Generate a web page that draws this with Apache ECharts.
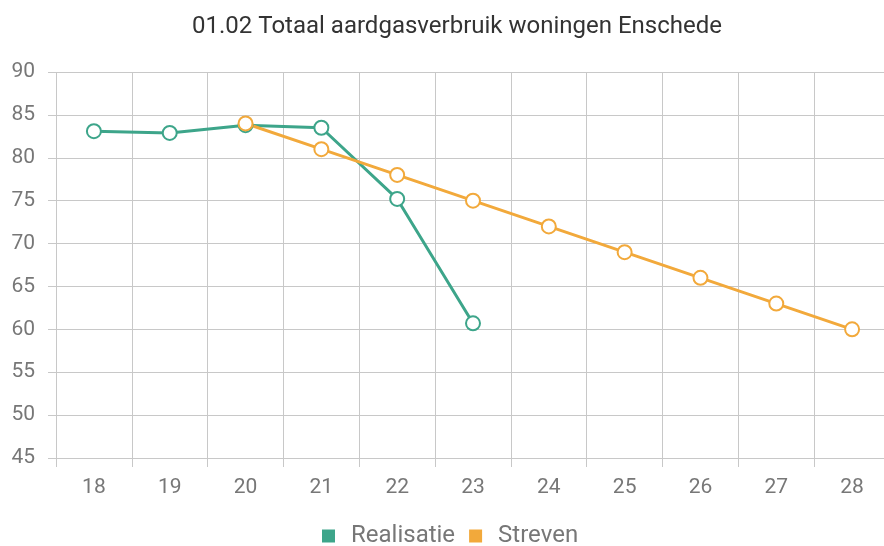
<!DOCTYPE html>
<html>
<head>
<meta charset="utf-8">
<script src="https://cdn.jsdelivr.net/npm/echarts@6/dist/echarts.min.js"></script>
<style>
  html, body { margin: 0; padding: 0; background: #fff; overflow: hidden; }
  #main { width: 892px; height: 546px; }
</style>
</head>
<body>
<div id="main"></div>
<script>
var years = ['18', '19', '20', '21', '22', '23', '24', '25', '26', '27', '28'];
var realisatie = [83.1, 82.9, 83.8, 83.5, 75.2, 60.7, null, null, null, null, null];
var streven = [null, null, 84, 81, 78, 75, 72, 69, 66, 63, 60];

var myChart = echarts.init(document.getElementById('main'));
var gridColor = '#c8c8c8';
var option = {
  color: ['#3da58a', '#f2a93b'],
  title: {
    text: '01.02 Totaal aardgasverbruik woningen Enschede',
    left: 452,
    textAlign: 'center',
    top: 10,
    textStyle: { fontFamily: 'Roboto', fontWeight: 'normal', fontSize: 24, color: '#333' }
  },
  legend: {
    top: 519,
    left: 317,
    icon: 'rect',
    itemWidth: 13,
    itemHeight: 13,
    itemGap: 14,
    textStyle: { fontFamily: 'Roboto', fontSize: 24, color: '#777', padding: [0, 0, 0, 11] },
    data: ['Realisatie', 'Streven']
  },
  grid: { left: 56, top: 72, width: 834, height: 386 },
  xAxis: {
    type: 'category',
    data: years,
    boundaryGap: true,
    axisLine: { lineStyle: { color: gridColor } },
    axisTick: { show: true, length: 9, lineStyle: { color: gridColor } },
    splitLine: { show: true, lineStyle: { color: gridColor } },
    axisLabel: { fontFamily: 'Roboto', fontSize: 21, color: '#777', margin: 19 }
  },
  yAxis: {
    type: 'value',
    min: 45,
    max: 90,
    interval: 5,
    axisLine: { show: false },
    axisTick: { show: true, length: 8, lineStyle: { color: gridColor } },
    splitLine: { show: true, lineStyle: { color: gridColor } },
    axisLabel: { fontFamily: 'Roboto', fontSize: 21, color: '#777', margin: 21 }
  },
  series: [
    {
      name: 'Realisatie',
      type: 'line',
      data: realisatie,
      symbol: 'emptyCircle',
      symbolSize: 14,
      lineStyle: { width: 3 },
      itemStyle: { borderWidth: 3 }
    },
    {
      name: 'Streven',
      type: 'line',
      data: streven,
      symbol: 'emptyCircle',
      symbolSize: 14,
      lineStyle: { width: 3 },
      itemStyle: { borderWidth: 3 }
    }
  ]
};
myChart.setOption(option);
</script>
</body>
</html>
